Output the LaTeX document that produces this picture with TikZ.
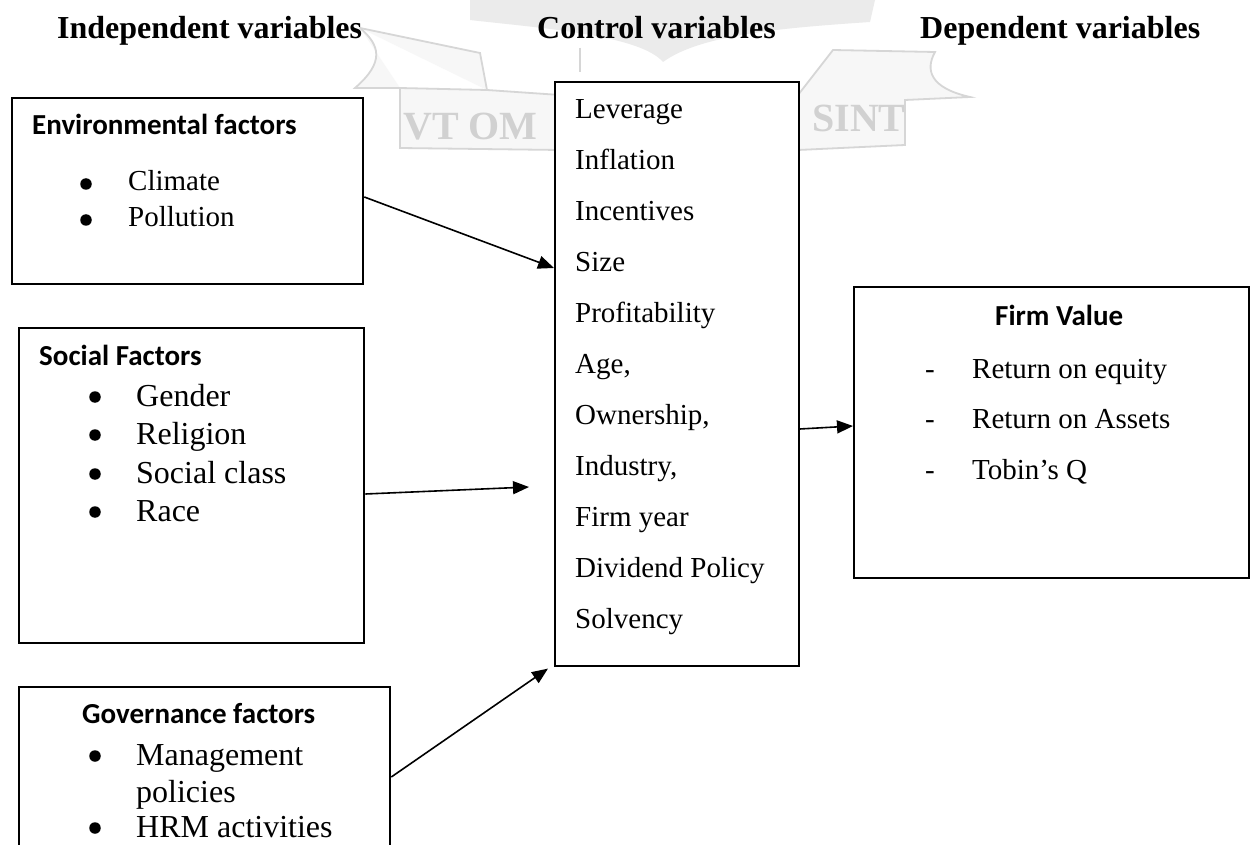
\documentclass[tikz,border=0pt]{standalone}
\usepackage{fontspec}
\setmainfont{Liberation Serif}
\newfontfamily\hdfont{Carlito}
\usetikzlibrary{arrows.meta}
\begin{document}
\begin{tikzpicture}[x=1pt,y=-1pt,
  box/.style={draw, line width=2.3pt, fill=white, inner sep=0pt, anchor=north west},
  cbox/.style={draw, line width=1.6pt, fill=white, inner sep=0pt, anchor=north west},
  hdr/.style={font=\fontsize{32}{38}\selectfont\bfseries, anchor=base west, inner sep=0pt},
  ttl/.style={font=\hdfont\fontsize{29}{34}\selectfont\bfseries, anchor=base west, inner sep=0pt},
  itm/.style={font=\fontsize{29}{34}\selectfont, anchor=base west, inner sep=0pt},
  bigitm/.style={font=\fontsize{32}{38}\selectfont, anchor=base west, inner sep=0pt},
  blt/.style={circle, fill=black, inner sep=0pt, minimum size=11.5pt},
  wm/.style={draw=black!16, line width=1.8pt, fill=black!3},
  wmtext/.style={text=black!18, font=\fontsize{40}{44}\selectfont\bfseries, inner sep=0pt},
  arr/.style={line width=1.6pt, -{Triangle[length=16pt,width=13pt]}}]
\useasboundingbox (0,0) rectangle (1251,845);
\fill[white] (0,0) rectangle (1251,845);

% faint watermark (ribbon logo)
\fill[black!8] (470,0) -- (875,0) -- (870,22) .. controls (780,28) and (700,35) .. (663,62)
   .. controls (640,35) and (540,28) .. (470,20) -- cycle;
\draw[wm] (360,28) -- (480,53) -- (487,90) -- (400,88) -- (400,148) -- (560,150) -- (560,95) -- (487,90);
\draw[wm] (360,28) .. controls (380,45) and (385,62) .. (355,88) -- (400,88);
\draw[wm] (798,95) -- (833,50) -- (935,52) .. controls (925,70) and (930,88) .. (970,97) -- (905,100) -- (905,145) -- (798,150) -- cycle;
\draw[wm] (580,48) -- (580,72);
\node[wmtext, anchor=base west] (wm1) at (403,140) {VT OM};
\node[wmtext, anchor=base west] (wm2) at (812,132) {SINT};

% headers
\node[hdr] (h1) at (57,39) {Independent variables};
\node[hdr] (h2) at (537,39) {Control variables};
\node[hdr] (h3) at (920,39) {Dependent variables};

% boxes
\node[box, minimum width=351pt, minimum height=186pt] (env) at (11,97) {};
\node[box, minimum width=345pt, minimum height=315pt] (soc) at (18,327) {};
\node[box, minimum width=371pt, minimum height=200pt] (gov) at (18,686) {};
\node[cbox, minimum width=244pt, minimum height=584pt] (ctrl) at (554,81) {};
\node[box, minimum width=395pt, minimum height=291pt] (firm) at (853,286) {};

% environmental
\node[ttl] (envt) at (32,135) {Environmental factors};
\node[blt] (envb1) at (86,184) {};
\node[itm] (env1) at (128,191) {Climate};
\node[blt] (envb2) at (86,220) {};
\node[itm] (env2) at (128,227) {Pollution};

% social
\node[ttl] (soct) at (39,365) {Social Factors};
\node[blt] (socb1) at (95,397) {};
\node[bigitm] (soc1) at (136,406) {Gender};
\node[blt] (socb2) at (95,435) {};
\node[bigitm] (soc2) at (136,444) {Religion};
\node[blt] (socb3) at (95,474) {};
\node[bigitm] (soc3) at (136,483) {Social class};
\node[blt] (socb4) at (95,512) {};
\node[bigitm] (soc4) at (136,521) {Race};

% governance
\node[ttl] (govt) at (82,723) {Governance factors};
\node[blt] (govb1) at (95,756) {};
\node[bigitm] (gov1) at (136,765) {Management};
\node[bigitm] (gov1b) at (136,802) {policies};
\node[blt] (govb2) at (95,828) {};
\node[bigitm] (gov2) at (136,837) {HRM activities};

% control
\foreach \t [count=\i from 0] in {Leverage,Inflation,Incentives,Size,Profitability,{Age,},{Ownership,},{Industry,},Firm year,Dividend Policy,Solvency}
  \node[itm] (c\i) at (575,119+50.9*\i) {\t};

% firm value
\node[ttl] (firmt) at (995,325) {Firm Value};
\node[itm] (fd1) at (925,378) {-};
\node[itm] (f1) at (972,378) {Return on equity};
\node[itm] (fd2) at (925,428) {-};
\node[itm] (f2) at (972,428) {Return on Assets};
\node[itm] (fd3) at (925,479) {-};
\node[itm] (f3) at (972,479) {Tobin’s Q};

% connectors
\draw[arr] ([yshift=-100pt]env.north east) -- ([yshift=-187pt]ctrl.north west);
\draw[arr] ([yshift=-167pt]soc.north east) -- ([xshift=-25pt,yshift=-406pt]ctrl.north west);
\draw[arr] ([yshift=-91pt]gov.north east) -- ([xshift=-6pt,yshift=-2pt]ctrl.south west);
\draw[arr] ([yshift=-348pt]ctrl.north east) -- ([yshift=-140pt]firm.north west);
\end{tikzpicture}
\end{document}
